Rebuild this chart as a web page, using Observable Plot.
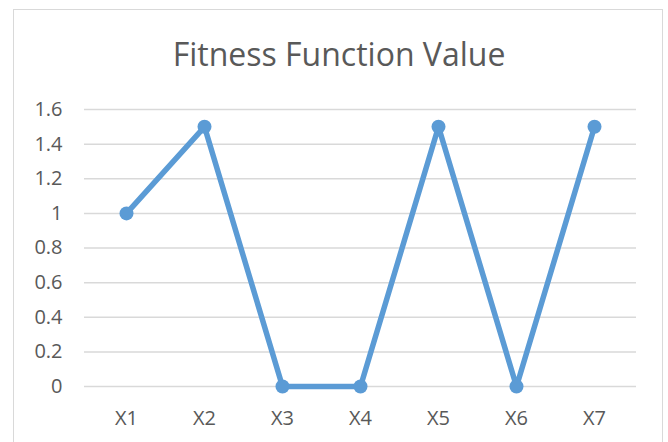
<!DOCTYPE html>
<html>
<head>
<meta charset="utf-8">
<script src="https://cdn.jsdelivr.net/npm/d3@7"></script>
<script src="https://cdn.jsdelivr.net/npm/@observablehq/plot@0.6"></script>
<style>
  html, body { margin: 0; padding: 0; background: #fff; }
  body { width: 668px; height: 442px; position: relative; overflow: hidden; font-family: "Open Sans", sans-serif; }
  #frame { position: absolute; left: 13px; top: 9px; width: 650px; height: 460px; border: 1.5px solid #d9d9d9; box-sizing: border-box; }
  #title { position: absolute; left: 14px; width: 650px; top: 38px; text-align: center; font-size: 32px; line-height: 32px; color: #595959; }
  #chart { position: absolute; left: 0; top: 90px; }
  #chart svg text { font-size: 20px; }
</style>
</head>
<body>
<div id="frame"></div>
<div id="title">Fitness Function Value</div>
<div id="chart"></div>
<script>
const categories = ["X1", "X2", "X3", "X4", "X5", "X6", "X7"];
const values = [1, 1.5, 0, 0, 1.5, 0, 1.5];
const yTicks = [0, 0.2, 0.4, 0.6, 0.8, 1, 1.2, 1.4, 1.6];

const data = categories.map((c, i) => ({cat: c, v: values[i]}));
const blue = "#5B9BD5";
const textColor = "#595959";

const plot = Plot.plot({
  width: 668,
  height: 352,
  marginTop: 19,
  marginBottom: 56,
  marginLeft: 84,
  marginRight: 32,
  style: {fontFamily: "Open Sans, sans-serif", fontSize: "20px", color: textColor, background: "transparent", overflow: "visible"},
  x: {type: "point", domain: categories, padding: 0.5, label: null},
  y: {domain: [0, 1.6], label: null},
  marks: [
    Plot.gridY(yTicks, {stroke: "#d9d9d9", strokeOpacity: 1, strokeWidth: 1.5}),
    Plot.axisY(yTicks, {tickSize: 0, tickPadding: 22, tickFormat: d => String(+d.toFixed(1)), fill: textColor, fontSize: 20, label: null}),
    Plot.axisX({tickSize: 0, tickPadding: 24, fill: textColor, fontSize: 20, label: null}),
    Plot.line(data, {x: "cat", y: "v", stroke: blue, strokeWidth: 5.5, strokeLinejoin: "round", strokeLinecap: "round"}),
    Plot.dot(data, {x: "cat", y: "v", r: 7, fill: blue, stroke: null})
  ]
});
document.getElementById("chart").appendChild(plot);
</script>
</body>
</html>
